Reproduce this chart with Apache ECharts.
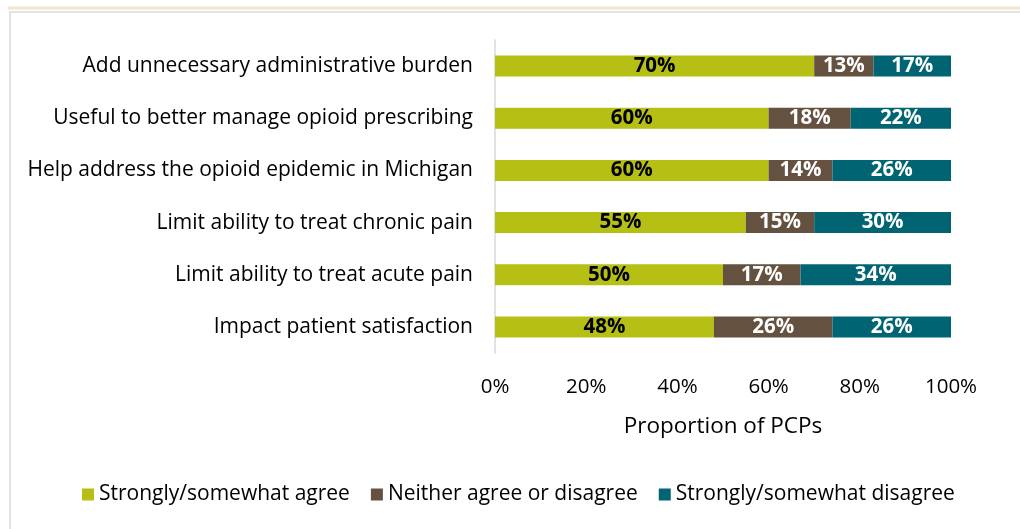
<!DOCTYPE html>
<html><head><meta charset="utf-8">
<script src="https://cdn.jsdelivr.net/npm/echarts@6/dist/echarts.min.js"></script>
<style>html,body{margin:0;padding:0;background:#fff;}#c{width:1020px;height:529px;}</style>
</head><body><div id="c"></div>
<script>
const categories = ["Add unnecessary administrative burden","Useful to better manage opioid prescribing","Help address the opioid epidemic in Michigan","Limit ability to treat chronic pain","Limit ability to treat acute pain","Impact patient satisfaction"];
const agree = [70,60,60,55,50,48];
const neither = [13,18,14,15,17,26];
const disagree = [17,22,26,30,34,26];
const seriesNames = ["Strongly/somewhat agree","Neither agree or disagree","Strongly/somewhat disagree"];
const colors = ["#B6BF14","#65513F","#016473"];
const labelColors = ["#000","#fff","#fff"];
const F = "'Open Sans', 'Noto Sans', sans-serif";
const chart = echarts.init(document.getElementById('c'));
const datas = [agree, neither, disagree];
chart.setOption({
  animation:false,
  graphic:[
    {type:'line',shape:{x1:8,y1:8,x2:1020,y2:8},style:{stroke:'#EFE4CF',lineWidth:3}},
    {type:'rect',shape:{x:10,y:12,width:1040,height:560},style:{fill:'none',stroke:'#D9D9D9',lineWidth:1.5}}
  ],
  grid:{left:495,right:69,top:40,bottom:176,containLabel:false},
  legend:{bottom:19,left:77,itemWidth:12,itemHeight:12,itemGap:21,icon:'rect',
    textStyle:{fontFamily:F,fontSize:21,color:'#000'},data:seriesNames},
  xAxis:{type:'value',min:0,max:100,interval:20,
    axisLine:{show:false},axisTick:{show:false},splitLine:{show:false},
    axisLabel:{formatter:'{value}%',fontFamily:F,fontSize:20.5,color:'#000',margin:24},
    name:'Proportion of PCPs',nameLocation:'middle',nameGap:62,
    nameTextStyle:{fontFamily:F,fontSize:22.5,color:'#000'}},
  yAxis:{type:'category',data:categories,inverse:true,
    axisLine:{show:true,lineStyle:{color:'#D9D9D9',width:1.5}},axisTick:{show:false},
    axisLabel:{fontFamily:F,fontSize:21,color:'#000',margin:22,padding:[5,0,0,0]}},
  series: datas.map((d,i)=>({
    name:seriesNames[i],type:'bar',stack:'t',data:d,barWidth:21,
    itemStyle:{color:colors[i]},
    label:{show:true,position:'inside',formatter:'{c}%',fontFamily:F,fontSize:20.5,fontWeight:'bold',color:labelColors[i]}
  }))
});
</script></body></html>
